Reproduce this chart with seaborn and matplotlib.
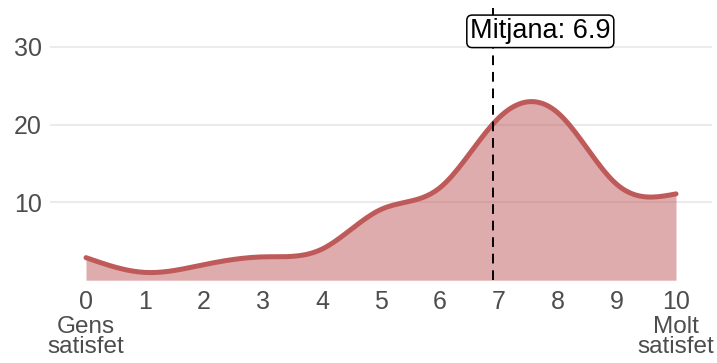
import matplotlib
matplotlib.use("Agg")
import matplotlib.pyplot as plt
import numpy as np
import pandas as pd
import seaborn as sns

# Percentatge de respostes per puntuació (0-10)
puntuacio = [0, 1, 2, 3, 4, 5, 6, 7, 8, 9, 10]
percentatge = [2.9, 1.0, 2.0, 3.0, 4.0, 9.1, 11.9, 20.9, 21.5, 12.3, 11.1]
mitjana = 6.9
etiquetes_x = ["0", "1", "2", "3", "4", "5", "6", "7", "8", "9", "10"]
extrems = ["Gens\nsatisfet", "Molt\nsatisfet"]

COLOR = "#BF5A5A"


def corba_suau(x, y, n=200):
    # spline cúbic natural només per dibuixar la línia suau
    x = np.asarray(x, float)
    y = np.asarray(y, float)
    k = len(x)
    h = np.diff(x)
    A = np.zeros((k, k))
    b = np.zeros(k)
    A[0, 0] = A[-1, -1] = 1
    for i in range(1, k - 1):
        A[i, i - 1] = h[i - 1]
        A[i, i] = 2 * (h[i - 1] + h[i])
        A[i, i + 1] = h[i]
        b[i] = 6 * ((y[i + 1] - y[i]) / h[i] - (y[i] - y[i - 1]) / h[i - 1])
    M = np.linalg.solve(A, b)
    xs = np.linspace(x[0], x[-1], n * (k - 1) // 10 + 1)
    idx = np.clip(np.searchsorted(x, xs) - 1, 0, k - 2)
    t0 = x[idx + 1] - xs
    t1 = xs - x[idx]
    hi = h[idx]
    ys = (M[idx] * t0**3 / (6 * hi) + M[idx + 1] * t1**3 / (6 * hi)
          + (y[idx] / hi - M[idx] * hi / 6) * t0 + (y[idx + 1] / hi - M[idx + 1] * hi / 6) * t1)
    return xs, ys


sns.set_theme(style="white")
plt.rcParams["font.family"] = ["Liberation Sans", "DejaVu Sans"]

xs, ys = corba_suau(puntuacio, percentatge)
df = pd.DataFrame({"puntuacio": xs, "percentatge": ys})

fig = plt.figure(figsize=(7.17, 3.63), dpi=100)
ax = fig.add_axes([50 / 717, 1 - 280.2 / 363, 662 / 717, 272.2 / 363])

ax.fill_between(df["puntuacio"], 0, df["percentatge"], color=COLOR, alpha=0.5, linewidth=0)
sns.lineplot(data=df, x="puntuacio", y="percentatge", color=COLOR, linewidth=3.6, ax=ax)

ax.axvline(mitjana, color="black", linestyle=(0, (5, 3.5)), linewidth=1.4)
ax.text(7.7, 32, f"Mitjana: {mitjana}", ha="center", va="center", fontsize=19.5,
        color="black",
        bbox=dict(boxstyle="round,pad=0.12,rounding_size=0.2", fc="white", ec="black", lw=1.1))

ax.set_xlim(-0.61, 10.61)
ax.set_ylim(0, 35)
ax.set_xticks(puntuacio)
ax.set_xticklabels(etiquetes_x)
ax.set_yticks([10, 20, 30])
ax.tick_params(axis="both", length=0, labelsize=18, labelcolor="#4D4D4D", pad=6)
ax.tick_params(axis="x", pad=7)
ax.yaxis.grid(True, color="#EBEBEB", linewidth=1.5)
ax.set_axisbelow(True)
for s in ax.spines.values():
    s.set_visible(False)
ax.set_xlabel("")
ax.set_ylabel("")

ax.text(0, -0.13, extrems[0], transform=ax.get_xaxis_transform(), ha="center", va="top",
        fontsize=17.5, color="#4D4D4D", linespacing=0.92)
ax.text(10, -0.13, extrems[1], transform=ax.get_xaxis_transform(), ha="center", va="top",
        fontsize=17.5, color="#4D4D4D", linespacing=0.92)

fig.patch.set_facecolor("white")
fig.savefig("out.png", dpi=100)
